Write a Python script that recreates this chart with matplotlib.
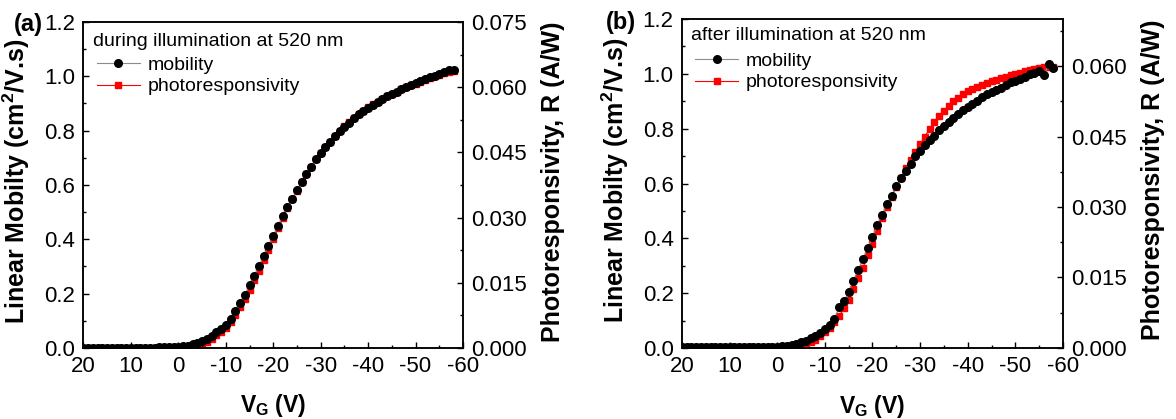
import matplotlib
matplotlib.use("Agg")
import matplotlib.pyplot as plt
from matplotlib.ticker import MultipleLocator, FormatStrFormatter

plt.rcParams['font.family'] = ['Liberation Sans', 'DejaVu Sans']
plt.rcParams['mathtext.fontset'] = 'custom'
plt.rcParams['mathtext.rm'] = 'Liberation Sans'
plt.rcParams['mathtext.bf'] = 'Liberation Sans:bold'
plt.rcParams['axes.unicode_minus'] = False

# gate voltage, 20 V down to -58 V in 1 V steps
vg = list(range(20, -59, -1))

# (a) during illumination
mob_a = [0.001] * 16 + [
    0.002, 0.003, 0.004, 0.005, 0.005,
    0.007, 0.009, 0.013, 0.018, 0.025, 0.033, 0.045, 0.060, 0.070, 0.085,
    0.108, 0.135, 0.165, 0.195, 0.230, 0.265, 0.300, 0.340, 0.375, 0.412,
    0.450, 0.485, 0.520, 0.550, 0.580, 0.610, 0.640, 0.667, 0.695, 0.717,
    0.740, 0.760, 0.780, 0.800, 0.815, 0.830, 0.845, 0.860, 0.872, 0.885,
    0.895, 0.905, 0.916, 0.926, 0.935, 0.944, 0.953, 0.960, 0.968, 0.975,
    0.983, 0.990, 0.996, 1.002, 1.008, 1.015, 1.025, 1.025]
r_a = [0.0] * 21 + [
    0.0001, 0.0002, 0.0004, 0.0006, 0.0009, 0.0014, 0.0021, 0.0029, 0.0037, 0.0046,
    0.0060, 0.0075, 0.0094, 0.0112, 0.0134, 0.0156, 0.0178, 0.0203, 0.0226, 0.0250,
    0.0275, 0.0298, 0.0322, 0.0342, 0.0362, 0.0381, 0.0400, 0.0417, 0.0434, 0.0448,
    0.0462, 0.0475, 0.0488, 0.0500, 0.0510, 0.0520, 0.0529, 0.0538, 0.0546, 0.0554,
    0.0561, 0.0567, 0.0573, 0.0579, 0.0585, 0.0590, 0.0595, 0.0600, 0.0604, 0.0608,
    0.0613, 0.0617, 0.0621, 0.0625, 0.0628, 0.0632, 0.0636, 0.0638]

# (b) after illumination
mob_b = [0.003] * 16 + [
    0.003, 0.004, 0.004, 0.005, 0.005,
    0.006, 0.008, 0.010, 0.014, 0.020, 0.025, 0.035, 0.045, 0.055, 0.070,
    0.085, 0.105, 0.150, 0.170, 0.205, 0.245, 0.285, 0.325, 0.365, 0.405,
    0.450, 0.485, 0.525, 0.555, 0.590, 0.620, 0.645, 0.670, 0.700, 0.720,
    0.740, 0.760, 0.775, 0.795, 0.810, 0.825, 0.840, 0.855, 0.870, 0.880,
    0.890, 0.900, 0.915, 0.925, 0.935, 0.940, 0.950, 0.960, 0.970, 0.975,
    0.980, 0.990, 1.000, 1.005, 1.010, 0.995, 1.035, 1.020]
r_b = [0.0002] * 25 + [
    0.0005, 0.0008, 0.0012, 0.0018, 0.0025, 0.0033,
    0.0042, 0.0055, 0.0068, 0.0085, 0.0103, 0.0125, 0.0148, 0.0171, 0.0197, 0.0222,
    0.0250, 0.0276, 0.0300, 0.0322, 0.0343, 0.0362, 0.0382, 0.0400, 0.0418, 0.0434,
    0.0450, 0.0466, 0.0480, 0.0493, 0.0505, 0.0516, 0.0525, 0.0533, 0.0540, 0.0546,
    0.0551, 0.0556, 0.0560, 0.0564, 0.0568, 0.0571, 0.0574, 0.0577, 0.0580, 0.0583,
    0.0586, 0.0589, 0.0592, 0.0594, 0.0596, 0.0597, 0.0598, 0.0598]

panels = [
    dict(mob=mob_a, r=r_a, tag="(a)", note="during illumination at 520 nm",
         rmax=0.075, rticks=[0.0, 0.015, 0.030, 0.045, 0.060, 0.075],
         pos=[0.0710, 0.1695, 0.3227, 0.778], tagxy=(14, 25),
         note_y=0.939, leg_y=0.895),
    dict(mob=mob_b, r=r_b, tag="(b)", note="after illumination at 520 nm",
         rmax=0.070, rticks=[0.0, 0.015, 0.030, 0.045, 0.060],
         pos=[0.5799, 0.1695, 0.3240, 0.785], tagxy=(606, 23),
         note_y=0.951, leg_y=0.899),
]

W, H = 1176, 419
fig = plt.figure(figsize=(W / 100, H / 100), dpi=100)

for p in panels:
    ax = fig.add_axes(p["pos"])
    ax2 = ax.twinx()
    l1, = ax.plot(vg, p["mob"], '-', color='#8c8c8c', lw=0.8, marker='o',
                  ms=5.5, mfc='black', mec='black', label='mobility')
    l2, = ax2.plot(vg, p["r"], '-', color='red', lw=0.8, marker='s',
                   ms=4.8, mfc='red', mec='red', label='photoresponsivity')
    ax.set_xlim(20, -60)
    ax.set_ylim(0, 1.2)
    ax2.set_ylim(0, p["rmax"])
    ax.xaxis.set_major_locator(MultipleLocator(10))
    ax.xaxis.set_minor_locator(MultipleLocator(5))
    ax.yaxis.set_major_locator(MultipleLocator(0.2))
    ax.yaxis.set_minor_locator(MultipleLocator(0.1))
    ax.yaxis.set_major_formatter(FormatStrFormatter('%.1f'))
    ax2.set_yticks(p["rticks"])
    ax2.yaxis.set_minor_locator(MultipleLocator(0.0075))
    ax2.yaxis.set_major_formatter(FormatStrFormatter('%.3f'))
    for a in (ax, ax2):
        a.tick_params(which='both', direction='in', labelsize=16, pad=6,
                      width=1.0)
        a.tick_params(which='major', length=4.5)
        a.tick_params(which='minor', length=2.5)
        for s in a.spines.values():
            s.set_linewidth(1.1)
    ax.tick_params(axis='y', right=False)
    ax.tick_params(axis='x', top=False)

    ax.set_xlabel(r'$\mathbf{V_G}$ (V)', fontsize=16.5, fontweight='bold',
                  va='top')
    ax.xaxis.set_label_coords(0.5, -0.136)
    ax.set_ylabel(r'Linear Mobilty (cm$\mathbf{^2}$/V.s)', fontsize=18,
                  fontweight='bold')
    ax.yaxis.set_label_coords(-0.135, 0.51)
    ax2.set_ylabel('Photoresponsivity, R (A/W)', fontsize=18,
                   fontweight='bold')
    ax2.yaxis.set_label_coords(1.205, 0.51)

    ax.text(0.025, p["note_y"], p["note"], transform=ax.transAxes,
            fontsize=14, ha='left', va='center', zorder=10)
    leg = ax.legend(handles=[l1, l2], loc='upper left', frameon=False,
                    bbox_to_anchor=(0.035, p["leg_y"]), borderaxespad=0,
                    borderpad=0, fontsize=14, handlelength=2.2,
                    handletextpad=0.4, labelspacing=0.2)
    leg.set_zorder(10)
    ax.set_zorder(ax2.get_zorder() + 1)
    ax.patch.set_visible(False)

    tx, ty = p["tagxy"]
    fig.text(tx / W, 1 - ty / H, p["tag"], fontsize=17, fontweight='bold',
             ha='left', va='center')

fig.savefig('out.png', dpi=100)
